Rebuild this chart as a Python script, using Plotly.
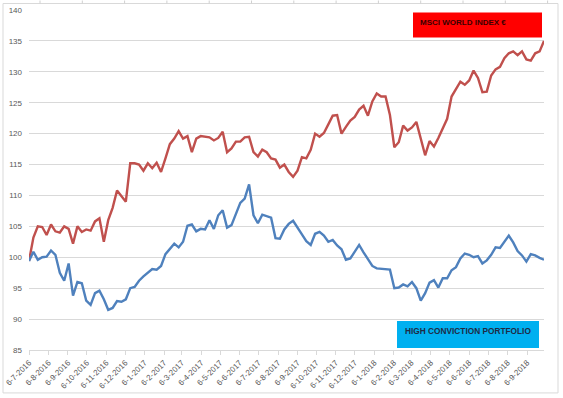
import pandas as pd
import plotly.graph_objects as go

# ---------------- data (weekly readings from the picture) ----------------
start_date = "2016-07-06"

msci_world = [
    99.4, 103.2, 105.0, 104.9, 103.6, 105.3, 104.2, 104.0, 105.0, 104.6,
    102.2, 105.0, 104.1, 104.5, 104.3, 105.8, 106.3, 102.5, 106.0, 108.0,
    110.8, 109.8, 109.0, 115.2, 115.2, 115.0, 114.0, 115.2, 114.4, 115.3,
    113.8, 116.0, 118.3, 119.2, 120.4, 119.2, 119.6, 117.0, 119.2, 119.6,
    119.5, 119.4, 118.9, 119.3, 120.3, 117.0, 117.6, 118.7, 118.7, 119.4,
    119.5, 117.0, 116.3, 117.4, 117.0, 116.0, 115.8, 114.5, 115.0, 113.8,
    113.0, 114.0, 116.2, 116.0, 117.4, 120.0, 119.5, 120.1, 121.5, 122.9,
    123.0, 120.0, 121.1, 122.1, 122.7, 123.9, 124.5, 122.9, 125.2, 126.5,
    126.0, 126.0, 123.0, 117.8, 118.6, 121.3, 120.5, 121.0, 121.9, 119.0,
    116.5, 118.8, 117.9, 119.3, 120.9, 122.4, 126.0, 127.2, 128.4, 127.9,
    128.6, 130.2, 129.0, 126.7, 126.8, 129.4, 130.4, 130.8, 132.2, 133.0,
    133.3, 132.7, 133.3, 132.0, 131.8, 133.0, 133.3, 135.0,
]

high_conviction = [
    99.4, 100.9, 99.6, 100.0, 100.1, 101.1, 100.4, 97.5, 96.2, 99.0,
    93.8, 96.0, 95.8, 93.0, 92.3, 94.2, 94.6, 93.2, 91.5, 91.8,
    92.9, 92.8, 93.2, 95.0, 95.2, 96.2, 96.9, 97.5, 98.1, 98.0,
    98.6, 100.5, 101.4, 102.2, 101.6, 102.5, 105.1, 105.3, 104.2, 104.6,
    104.5, 106.0, 104.6, 106.8, 107.6, 104.8, 105.2, 106.9, 108.8, 109.5,
    111.8, 106.8, 105.5, 106.9, 106.7, 106.4, 103.1, 103.0, 104.5, 105.4,
    105.9, 104.7, 103.7, 102.6, 102.0, 103.8, 104.1, 103.5, 102.5, 102.8,
    101.9, 101.3, 99.6, 99.8, 101.0, 102.0, 100.8, 99.6, 98.6, 98.2,
    98.1, 98.0, 98.0, 95.0, 95.1, 95.6, 95.3, 96.0, 95.0, 93.0,
    94.2, 95.9, 96.3, 95.1, 96.6, 96.6, 97.9, 98.4, 99.8, 100.6,
    100.4, 100.0, 100.2, 99.0, 99.5, 100.4, 101.6, 101.5, 102.5, 103.5,
    102.4, 101.0, 100.3, 99.3, 100.5, 100.3, 99.9, 99.6,
]

tick_dates = [
    "2016-07-06", "2016-08-06", "2016-09-06", "2016-10-06", "2016-11-06", "2016-12-06",
    "2017-01-06", "2017-02-06", "2017-03-06", "2017-04-06", "2017-05-06", "2017-06-06",
    "2017-07-06", "2017-08-06", "2017-09-06", "2017-10-06", "2017-11-06", "2017-12-06",
    "2018-01-06", "2018-02-06", "2018-03-06", "2018-04-06", "2018-05-06", "2018-06-06",
    "2018-07-06", "2018-08-06", "2018-09-06",
]
tick_labels = [
    "6-7-2016", "6-8-2016", "6-9-2016", "6-10-2016", "6-11-2016", "6-12-2016",
    "6-1-2017", "6-2-2017", "6-3-2017", "6-4-2017", "6-5-2017", "6-6-2017",
    "6-7-2017", "6-8-2017", "6-9-2017", "6-10-2017", "6-11-2017", "6-12-2017",
    "6-1-2018", "6-2-2018", "6-3-2018", "6-4-2018", "6-5-2018", "6-6-2018",
    "6-7-2018", "6-8-2018", "6-9-2018",
]
y_ticks = [85, 90, 95, 100, 105, 110, 115, 120, 125, 130, 135, 140]

label_msci = "MSCI WORLD INDEX €"
label_hcp = "HIGH CONVICTION PORTFOLIO"

dates = pd.date_range(start_date, periods=len(msci_world), freq="7D")

# ---------------- figure ----------------
fig = go.Figure()
fig.add_trace(go.Scatter(x=dates, y=msci_world, mode="lines",
                         line=dict(color="#C0504D", width=2.4), name=label_msci))
fig.add_trace(go.Scatter(x=dates, y=high_conviction, mode="lines",
                         line=dict(color="#4F81BD", width=2.4), name=label_hcp))

tick_font = dict(family="Liberation Sans, Arial, sans-serif", size=8, color="#595959")

fig.update_layout(
    width=563, height=398,
    margin=dict(l=29, r=19, t=10, b=48, autoexpand=False),
    paper_bgcolor="white", plot_bgcolor="white",
    showlegend=False,
    hovermode=False,
    xaxis=dict(
        type="date",
        range=[dates[0], dates[-1]],
        tickmode="array", tickvals=tick_dates, ticktext=tick_labels,
        tickangle=-45, tickfont=tick_font,
        showgrid=False, zeroline=False,
        showline=True, linecolor="#D9D9D9", linewidth=1,
        ticks="outside", ticklen=4, tickcolor="#D9D9D9",
    ),
    yaxis=dict(
        range=[85, 140], tickmode="array", tickvals=y_ticks,
        tickfont=tick_font, ticklabelstandoff=6,
        showgrid=True, gridcolor="#D9D9D9", gridwidth=1,
        zeroline=False, showline=False,
    ),
)

def px_x(p):
    return (p - 29) / 515.0

def px_y(p):
    return (350 - p) / 340.5

# chart-area border
fig.add_shape(type="rect", xref="paper", yref="paper",
              x0=px_x(3), x1=px_x(558), y0=px_y(393), y1=px_y(3),
              line=dict(color="#D9D9D9", width=1), fillcolor="rgba(0,0,0,0)", layer="below")

# spreadsheet cell lines peeking above the chart
for k in range(13):
    cx = 40 + 42.3 * k
    fig.add_shape(type="line", xref="paper", yref="paper",
                  x0=px_x(cx), x1=px_x(cx), y0=px_y(3), y1=px_y(0),
                  line=dict(color="#D0D0D0", width=1))

# label boxes
fig.add_shape(type="rect", xref="paper", yref="paper",
              x0=px_x(413), x1=px_x(542), y0=px_y(37), y1=px_y(12),
              line=dict(width=0), fillcolor="#FF0000")
fig.add_annotation(xref="paper", yref="paper", x=px_x(418), y=px_y(22),
                   xanchor="left", yanchor="middle", showarrow=False,
                   text="<b>" + label_msci + "</b>",
                   font=dict(family="Liberation Sans, Arial, sans-serif",
                             size=8, color="#3A0000"))

fig.add_shape(type="rect", xref="paper", yref="paper",
              x0=px_x(397), x1=px_x(539), y0=px_y(348), y1=px_y(321),
              line=dict(width=0), fillcolor="#00B0F0")
fig.add_annotation(xref="paper", yref="paper", x=px_x(403), y=px_y(331),
                   xanchor="left", yanchor="middle", showarrow=False,
                   text="<b>" + label_hcp + "</b>",
                   font=dict(family="Liberation Sans, Arial, sans-serif",
                             size=8.3, color="#1F2A44"))

fig.write_html("out.html", config={"displayModeBar": False},
               post_script="document.body.style.margin='0';document.body.style.padding='0';")
